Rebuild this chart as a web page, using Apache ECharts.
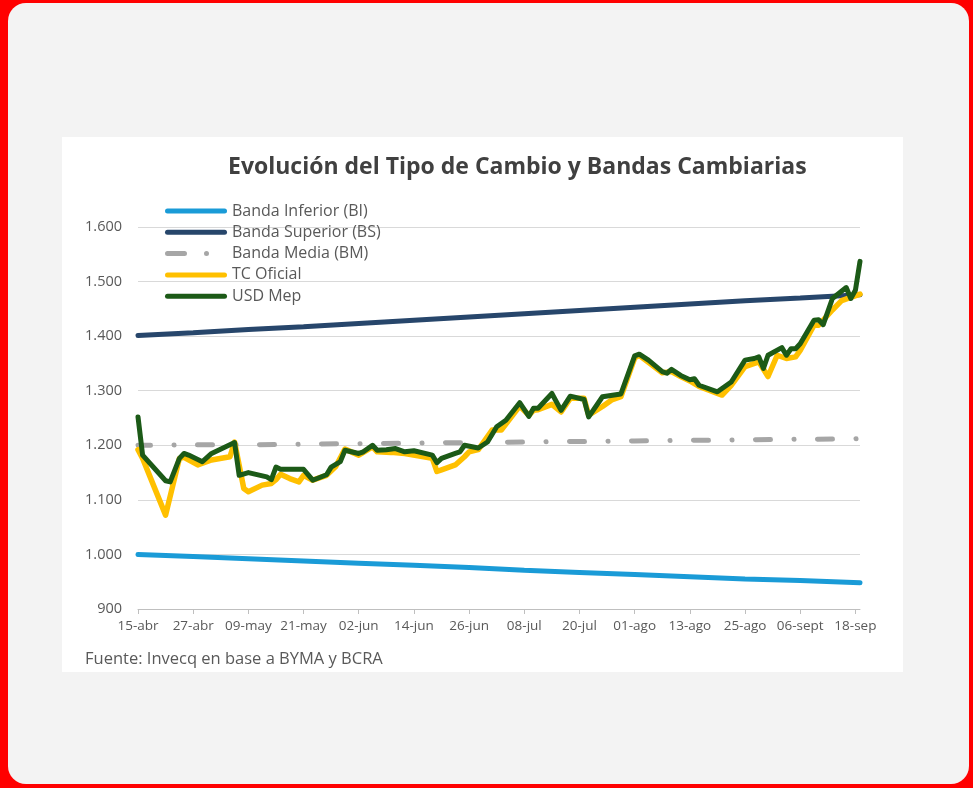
<!DOCTYPE html>
<html>
<head>
<meta charset="utf-8">
<script src="https://cdn.jsdelivr.net/npm/echarts@6/dist/echarts.min.js"></script>
<style>
  html, body { margin: 0; padding: 0; width: 973px; height: 788px; background: #ff0000; overflow: hidden; }
  #frame { position: absolute; left: 8px; top: 3px; right: 4px; bottom: 4px; background: #f3f3f3; border-radius: 18px; }
  #panel { position: absolute; left: 62px; top: 137px; width: 841px; height: 535px; background: #ffffff; }
  #chart { position: absolute; left: 0; top: 0; width: 973px; height: 788px; }
</style>
</head>
<body>
<div id="frame"></div>
<div id="panel"></div>
<div id="chart"></div>
<script>
// etiquetas del eje x (cada 12 dias desde 15-abr)
const tickLabels = ['15-abr', '27-abr', '09-may', '21-may', '02-jun', '14-jun', '26-jun',
  '08-jul', '20-jul', '01-ago', '13-ago', '25-ago', '06-sept', '18-sep'];

// bandas: dias desde 15-abr
const bandDays = [0, 12, 24, 36, 48, 60, 72, 84, 96, 108, 120, 132, 144, 157];
const bandaInferior = [1000, 996, 992, 988, 984, 980, 976, 971, 967, 963, 959, 955, 952, 948];
const bandaSuperior = [1401, 1406, 1412, 1417, 1423, 1429, 1435, 1441, 1447, 1453, 1459, 1465, 1470, 1476];
const bandaMedia = [1200, 1201, 1201, 1202, 1203, 1204, 1205, 1206, 1207, 1208, 1209, 1210, 1211, 1212];

// TC Oficial
const tcDays = [0, 1, 6, 9, 10, 13, 16, 20, 21, 23,
  24, 27, 29, 30, 31, 33, 35, 36, 38, 41,
  43, 45, 48, 51, 52, 55, 58, 64, 65, 66,
  69, 71, 72, 74, 77, 79, 83, 85, 86, 87,
  90, 92, 94, 97, 98, 101, 103, 105, 108, 109,
  111, 114, 116, 118, 120, 122, 127, 129, 132, 135,
  137, 139, 141, 143, 144, 147, 148, 151, 153, 157];
const tcOficial = [1192, 1176, 1072, 1176, 1178, 1164, 1173, 1179, 1206, 1121,
  1115, 1127, 1130, 1137, 1147, 1139, 1133, 1145, 1136, 1145,
  1161, 1193, 1182, 1197, 1188, 1187, 1185, 1176, 1152, 1155,
  1164, 1179, 1188, 1192, 1228, 1228, 1272, 1255, 1264, 1265,
  1275, 1261, 1286, 1286, 1255, 1271, 1283, 1289, 1360, 1365,
  1352, 1333, 1335, 1326, 1318, 1308, 1292, 1310, 1344, 1353,
  1326, 1365, 1359, 1362, 1374, 1420, 1420, 1448, 1465, 1477];

// USD Mep
const mepDays = [0, 1, 6, 7, 9, 10, 11, 14, 16, 21,
  22, 24, 28, 29, 30, 31, 36, 38, 41, 42,
  44, 45, 48, 49, 50, 51, 52, 54, 56, 58,
  60, 64, 65, 66, 69, 70, 71, 74, 76, 78,
  80, 83, 85, 86, 87, 90, 92, 94, 97, 98,
  101, 105, 108, 109, 111, 114, 115, 116, 118, 120,
  121, 122, 126, 129, 132, 134, 135, 136, 137, 140,
  141, 142, 143, 144, 147, 148, 149, 151, 154, 155,
  156, 157];
const usdMep = [1252, 1182, 1135, 1133, 1176, 1185, 1182, 1170, 1185, 1205,
  1145, 1150, 1142, 1137, 1160, 1156, 1156, 1136, 1146, 1160,
  1170, 1191, 1185, 1188, 1194, 1200, 1191, 1192, 1194, 1188,
  1190, 1182, 1168, 1176, 1185, 1188, 1200, 1195, 1206, 1234,
  1246, 1278, 1253, 1268, 1268, 1295, 1264, 1290, 1284, 1252,
  1289, 1294, 1364, 1367, 1356, 1335, 1332, 1339, 1328, 1320,
  1322, 1310, 1298, 1316, 1356, 1359, 1362, 1341, 1365, 1379,
  1365, 1377, 1377, 1386, 1429, 1430, 1421, 1469, 1489, 1469,
  1484, 1537];

const pairs = (xs, ys) => xs.map((d, i) => [d, ys[i]]);
const fmtMiles = v => v >= 1000 ? Math.floor(v / 1000) + '.' + String(v % 1000).padStart(3, '0') : String(v);
const tickDays = tickLabels.map((_, i) => i * 12);

const font = '"Open Sans", Lato, sans-serif';

// iconos de leyenda: linea gruesa con puntas redondas, y raya + punto para BM
const iconLinea = 'path://M2.5,0 L59.5,0 A2.5,2.5 0 0 1 59.5,5 L2.5,5 A2.5,2.5 0 0 1 2.5,0 Z';
const iconRayaPunto = 'path://M2.5,0 L19.5,0 A2.5,2.5 0 0 1 19.5,5 L2.5,5 A2.5,2.5 0 0 1 2.5,0 Z ' +
    'M41.5,0 A2.5,2.5 0 1 1 41.5,5 A2.5,2.5 0 1 1 41.5,0 Z M61.99,2.5 L62,2.5 L62,2.51 Z';

var option = {
    animation: false,
    title: {
        text: 'Evolución del Tipo de Cambio y Bandas Cambiarias',
        left: 223,
        top: 151,
        textStyle: { fontFamily: font, fontSize: 23, fontWeight: 'bold', color: '#404040' }
    },
    legend: {
        orient: 'vertical',
        left: 165,
        top: 203,
        padding: 0,
        itemWidth: 62,
        itemHeight: 14,
        itemGap: 5.3,
        icon: iconLinea,
        textStyle: { fontFamily: font, fontSize: 16, lineHeight: 14, color: '#595959' },
        data: [
            { name: 'Banda Inferior (BI)' },
            { name: 'Banda Superior (BS)' },
            { name: 'Banda Media (BM)', icon: iconRayaPunto },
            { name: 'TC Oficial' },
            { name: 'USD Mep' }
        ]
    },
    graphic: [{
        type: 'text',
        left: 85,
        top: 651,
        style: { text: 'Fuente: Invecq en base a BYMA y BCRA', fontFamily: font, fontSize: 16.5, fill: '#595959' }
    }],
    grid: { left: 138, right: 113, top: 227, bottom: 179 },
    xAxis: {
        type: 'value',
        min: 0,
        max: 157,
        splitLine: { show: false },
        axisLine: { show: true, lineStyle: { color: '#bfbfbf', width: 1 } },
        axisTick: { show: true, customValues: tickDays, length: 5, lineStyle: { color: '#bfbfbf' } },
        axisLabel: {
            customValues: tickDays,
            margin: 10,
            fontFamily: font, fontSize: 13.5, color: '#595959',
            formatter: v => tickLabels[Math.round(v / 12)]
        }
    },
    yAxis: {
        type: 'value',
        min: 900,
        max: 1600,
        interval: 100,
        axisLine: { show: false },
        axisTick: { show: false },
        splitLine: { lineStyle: { color: '#d9d9d9', width: 1 } },
        axisLabel: { margin: 16, fontFamily: font, fontSize: 14.5, color: '#595959', formatter: fmtMiles }
    },
    series: [{
        name: 'Banda Inferior (BI)',
        type: 'line',
        data: pairs(bandDays, bandaInferior),
        symbol: 'none',
        itemStyle: { color: '#1a9bd7' },
        lineStyle: { color: '#1a9bd7', width: 5, cap: 'round' }
    }, {
        name: 'Banda Superior (BS)',
        type: 'line',
        data: pairs(bandDays, bandaSuperior),
        symbol: 'none',
        itemStyle: { color: '#27466b' },
        lineStyle: { color: '#27466b', width: 5, cap: 'round' }
    }, {
        name: 'Banda Media (BM)',
        type: 'line',
        data: pairs(bandDays, bandaMedia),
        symbol: 'none',
        itemStyle: { color: '#a6a6a6' },
        lineStyle: { color: '#a6a6a6', width: 5, cap: 'round', type: [15, 23.5, 0.1, 23.4], dashOffset: 2.5 }
    }, {
        name: 'TC Oficial',
        type: 'line',
        data: pairs(tcDays, tcOficial),
        symbol: 'none',
        itemStyle: { color: '#ffc000' },
        lineStyle: { color: '#ffc000', width: 5.5, join: 'round', cap: 'round' }
    }, {
        name: 'USD Mep',
        type: 'line',
        data: pairs(mepDays, usdMep),
        symbol: 'none',
        itemStyle: { color: '#1c5a17' },
        lineStyle: { color: '#1c5a17', width: 5, join: 'round', cap: 'round' }
    }]
};

var chart = echarts.init(document.getElementById('chart'));
chart.setOption(option);
</script>
</body>
</html>
